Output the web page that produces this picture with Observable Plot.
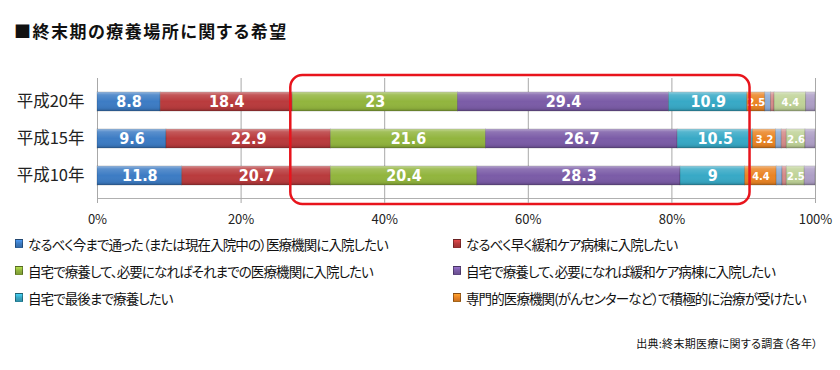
<!DOCTYPE html>
<html><head><meta charset="utf-8">
<script src="https://cdn.jsdelivr.net/npm/d3@7"></script>
<script src="https://cdn.jsdelivr.net/npm/@observablehq/plot@0.6"></script>
<style>
  body{margin:0;background:#fff;width:840px;height:370px;overflow:hidden;position:relative;font-family:"Noto Sans CJK JP","Noto Sans",sans-serif;color:#111;}
  #title{position:absolute;left:14px;top:18px;font-size:17px;font-weight:bold;letter-spacing:1.5px;font-feature-settings:"palt";}
  #chart{position:absolute;left:0;top:50px;}
  #legend{position:absolute;left:15px;top:230px;display:grid;grid-template-columns:438px auto;grid-auto-rows:27px;font-size:13.5px;letter-spacing:-0.9px;font-feature-settings:"palt";}
  #legend .it{display:flex;align-items:center;white-space:nowrap;}
  #legend .sw{width:8px;height:9px;margin-right:5px;border:1px solid rgba(0,0,0,0.35);box-sizing:border-box;}
  #caption{position:absolute;right:22px;top:335px;font-size:11px;letter-spacing:0.3px;font-feature-settings:"palt";}
</style>
</head><body>
<div id="title">■終末期の療養場所に関する希望</div>
<div id="chart"></div>
<div id="legend"></div>
<div id="caption">出典:終末期医療に関する調査（各年）</div>
<script>
// ---- data ----
const years = ["平成20年", "平成15年", "平成10年"];
const categories = [
  "なるべく今まで通った（または現在入院中の）医療機関に入院したい",
  "なるべく早く緩和ケア病棟に入院したい",
  "自宅で療養して、必要になればそれまでの医療機関に入院したい",
  "自宅で療養して、必要になれば緩和ケア病棟に入院したい",
  "自宅で最後まで療養したい",
  "専門的医療機関(がんセンターなど）で積極的に治療が受けたい",
  "その他1", "その他2", "その他3", "その他4"
];
const legendCount = 6;
// values per category, in the order of `years`
const s1 = [8.8, 9.6, 11.8];
const s2 = [18.4, 22.9, 20.7];
const s3 = [23, 21.6, 20.4];
const s4 = [29.4, 26.7, 28.3];
const s5 = [10.9, 10.5, 9];
const s6 = [2.5, 3.2, 4.4];
const s7 = [0.8, 0.8, 0.8];
const s8 = [0.5, 0.7, 0.6];
const s9 = [4.4, 2.6, 2.5];
const s10 = [1.3, 1.4, 1.5];
const series = [s1, s2, s3, s4, s5, s6, s7, s8, s9, s10];
const xTicks = [0, 20, 40, 60, 80, 100];

// ---- style ----
const palette = ["#3d7cc4", "#b93b3d", "#92b53e", "#7b5ca7", "#38a9c6", "#ea8424",
                 "#8eaed8", "#d58b8a", "#c0d398", "#ae9fc6"];

const table = years.flatMap((y, i) => categories.map((c, j) => ({year: y, cat: c, value: series[j][i], k: j})));

// highlight box spans segments 3..5 (derived from data)
const starts = years.map((_, i) => series[0][i] + series[1][i]);
const ends = years.map((_, i) => series.slice(0, 5).reduce((a, s) => a + s[i], 0));
const box = [{x1: d3.min(starts), x2: d3.max(ends)}];

const stackOpts = {x: "value", y: "year", z: "cat", order: categories};

const svg = Plot.plot({
  width: 840, height: 185,
  marginLeft: 97, marginRight: 25, marginTop: 28, marginBottom: 37,
  style: {fontFamily: "'Noto Sans CJK JP', 'Noto Sans', sans-serif", background: "transparent"},
  x: {domain: [0, 100]},
  y: {domain: years, paddingInner: 0.5, paddingOuter: 0.33},
  color: {domain: categories, range: palette},
  marks: [
    Plot.gridX(xTicks, {stroke: "#a8a8a8", strokeOpacity: 1}),
    Plot.frame({anchor: "bottom", stroke: "#b0b0b0"}),
    Plot.barX(table, Plot.stackX({...stackOpts, fill: "cat", stroke: "rgba(0,0,0,0.22)", strokeWidth: 0.8})),
    Plot.barX(table, Plot.stackX({...stackOpts, fill: "url(#gloss)"})),
    Plot.textX(table, Plot.stackX({...stackOpts,
      text: d => (d.k < 6 || d.value >= 2) ? d.value : "",
      fontSize: d => d.k < 5 ? 16 : 11,
      fill: "white", fontWeight: "bold",
      fontFamily: "'Liberation Sans Narrow','DejaVu Sans Condensed','Roboto Condensed',sans-serif"})),
    Plot.rect(box, {x1: "x1", x2: "x2", rx: 12, fill: "none", stroke: "#e8141c", strokeWidth: 2.5,
      insetTop: -3, insetBottom: -6, insetLeft: -2, insetRight: 3}),
    Plot.axisX(xTicks, {tickFormat: d => d + "%", tickSize: 5, tickPadding: 11, fontSize: 13, stroke: "#a8a8a8", fill: "#222", label: null}),
    Plot.axisY({tickSize: 0, tickPadding: 13, fontSize: 16.5, fill: "#222", label: null})
  ]
});

d3.select(svg).insert("defs", ":first-child").html(`
  <linearGradient id="gloss" x1="0" y1="0" x2="0" y2="1">
    <stop offset="0" stop-color="#fff" stop-opacity="0.45"/>
    <stop offset="0.15" stop-color="#fff" stop-opacity="0.15"/>
    <stop offset="0.5" stop-color="#fff" stop-opacity="0"/>
    <stop offset="0.85" stop-color="#000" stop-opacity="0.05"/>
    <stop offset="1" stop-color="#000" stop-opacity="0.25"/>
  </linearGradient>`);
document.getElementById("chart").appendChild(svg);

// legend (first six categories)
const lg = d3.select("#legend");
categories.slice(0, legendCount).forEach((c, j) => {
  const it = lg.append("div").attr("class", "it");
  it.append("span").attr("class", "sw")
    .style("background", `linear-gradient(${d3.color(palette[j]).brighter(0.6)}, ${palette[j]} 50%, ${d3.color(palette[j]).darker(0.4)})`);
  it.append("span").text(c);
});
</script>
</body></html>
